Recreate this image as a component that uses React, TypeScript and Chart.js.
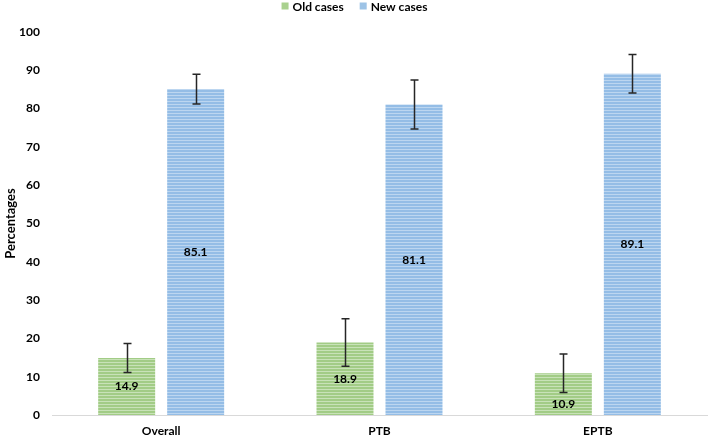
import React, { useEffect, useRef } from "react";
import { Chart, registerables } from "chart.js";

Chart.register(...registerables);

const categories = ["Overall", "PTB", "EPTB"];
const oldCases = [14.9, 18.9, 10.9];
const newCases = [85.1, 81.1, 89.1];
const oldErr = [3.8, 6.2, 5.0];
const newErr = [3.9, 6.4, 5.0];
const seriesNames = ["Old cases", "New cases"];
const yTicksMax = 100;
const yTickStep = 10;

const FONT = "Lato, 'Open Sans', sans-serif";

function stripe(base: string, light: string): CanvasPattern | string {
  const c = document.createElement("canvas");
  c.width = 4;
  c.height = 3;
  const g = c.getContext("2d");
  if (!g) return base;
  g.fillStyle = base;
  g.fillRect(0, 0, 4, 2);
  g.fillStyle = light;
  g.fillRect(0, 2, 4, 1);
  const p = g.createPattern(c, "repeat");
  return p || base;
}

const errors = [oldErr, newErr];

const errorBarPlugin = {
  id: "errorBars",
  afterDatasetsDraw(chart: any) {
    const ctx = chart.ctx;
    const y = chart.scales.y;
    ctx.save();
    ctx.strokeStyle = "#262626";
    ctx.lineWidth = 1.5;
    chart.data.datasets.forEach((ds: any, i: number) => {
      const meta = chart.getDatasetMeta(i);
      meta.data.forEach((el: any, j: number) => {
        const v = ds.data[j];
        const e = errors[i][j];
        const top = y.getPixelForValue(v + e);
        const bot = y.getPixelForValue(v - e);
        const x = Math.round(el.x) + 0.5;
        ctx.beginPath();
        ctx.moveTo(x, top);
        ctx.lineTo(x, bot);
        ctx.moveTo(x - 4, top);
        ctx.lineTo(x + 4, top);
        ctx.moveTo(x - 4, bot);
        ctx.lineTo(x + 4, bot);
        ctx.stroke();
      });
    });
    ctx.restore();
  },
  afterDraw(chart: any) {
    const ctx = chart.ctx;
    const yScale = chart.scales.y;
    ctx.save();
    ctx.font = `bold 12px ${FONT}`;
    ctx.fillStyle = "#000000";
    ctx.textAlign = "center";
    ctx.textBaseline = "middle";
    chart.data.datasets.forEach((ds: any, i: number) => {
      const meta = chart.getDatasetMeta(i);
      meta.data.forEach((el: any, j: number) => {
        const center = (el.y + el.base) / 2;
        const errBottom = yScale.getPixelForValue(ds.data[j] - errors[i][j]);
        const ly = Math.max(center, errBottom + 12);
        ctx.fillText(ds.data[j].toFixed(1), el.x, ly);
      });
    });
    // legend
    const items = chart.data.datasets.map((ds: any) => ({ label: ds.label, color: ds.legendColor }));
    ctx.textAlign = "left";
    const box = 7;
    const gapBoxText = 4;
    const gapItems = 16;
    const widths = items.map((it: any) => box + gapBoxText + ctx.measureText(it.label).width);
    const total = widths.reduce((a: number, b: number) => a + b, 0) + gapItems * (items.length - 1);
    let x = (chart.width - total) / 2;
    const cy = 6;
    items.forEach((it: any, k: number) => {
      ctx.fillStyle = it.color;
      ctx.fillRect(x, cy - box / 2, box, box);
      ctx.fillStyle = "#000000";
      ctx.fillText(it.label, x + box + gapBoxText, cy + 1);
      x += widths[k] + gapItems;
    });
    ctx.restore();
  },
};

export default function App() {
  const ref = useRef<HTMLCanvasElement | null>(null);
  useEffect(() => {
    if (!ref.current) return;
    const greenPat = stripe("#a2cc86", "#c8e2b8");
    const bluePat = stripe("#94bde6", "#bcd6f0");
    const chart = new Chart(ref.current, {
      type: "bar",
      data: {
        labels: categories,
        datasets: [
          {
            label: seriesNames[0],
            data: oldCases,
            backgroundColor: greenPat as any,
            legendColor: "#a9d18e",
            categoryPercentage: 0.632,
            barPercentage: 0.826,
          } as any,
          {
            label: seriesNames[1],
            data: newCases,
            backgroundColor: bluePat as any,
            legendColor: "#9dc3e6",
            categoryPercentage: 0.632,
            barPercentage: 0.826,
          } as any,
        ],
      },
      options: {
        animation: false,
        responsive: false,
        devicePixelRatio: 1,
        layout: { padding: { top: 32, right: 2, left: 0, bottom: 0 } },
        plugins: { legend: { display: false }, tooltip: { enabled: false } },
        scales: {
          x: {
            grid: { display: false, drawTicks: false },
            border: { display: true, color: "#d9d9d9", width: 1 },
            ticks: { color: "#000000", font: { family: FONT, size: 12, weight: "bold" }, padding: 9 },
            afterFit: (s: any) => {
              s.height = 23;
            },
          },
          y: {
            min: 0,
            max: yTicksMax,
            grid: { display: false, drawTicks: false },
            border: { display: false },
            ticks: {
              stepSize: yTickStep,
              color: "#000000",
              font: { family: FONT, size: 12, weight: "bold" },
              padding: 12,
            },
            title: {
              display: true,
              text: "Percentages",
              color: "#000000",
              font: { family: FONT, size: 13, weight: "bold" },
              padding: { top: 3, bottom: 0 },
            },
            afterFit: (s: any) => {
              s.width = 52;
            },
          },
        },
      },
      plugins: [errorBarPlugin],
    });
    return () => chart.destroy();
  }, []);
  return (
    <div style={{ position: "absolute", left: 0, top: 0, width: 709, height: 438, background: "#ffffff" }}>
      <canvas ref={ref} width={709} height={438} style={{ width: 709, height: 438, display: "block" }} />
    </div>
  );
}
